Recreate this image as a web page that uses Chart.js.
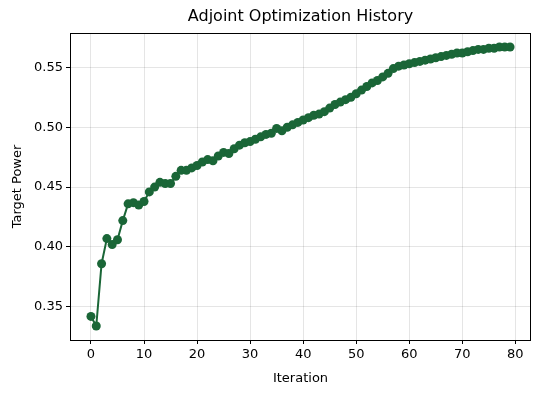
<!DOCTYPE html>
<html>
<head>
<meta charset="utf-8">
<script src="https://cdn.jsdelivr.net/npm/chart.js@4/dist/chart.umd.min.js"></script>
<style>
  html, body { margin: 0; padding: 0; background: #fff; }
  #wrap { width: 544px; height: 393px; }
</style>
</head>
<body>
<div id="wrap"><canvas id="chart"></canvas></div>
<script>
const iterations = Array.from({ length: 80 }, (_, i) => i);
const targetPower = [
  0.342, 0.334, 0.386, 0.407, 0.402, 0.406, 0.422, 0.436, 0.437, 0.435,
  0.438, 0.446, 0.450, 0.454, 0.453, 0.453, 0.459, 0.464, 0.464, 0.466,
  0.468, 0.471, 0.473, 0.472, 0.476, 0.479, 0.478, 0.482, 0.485, 0.487,
  0.488, 0.490, 0.492, 0.494, 0.495, 0.499, 0.497, 0.500, 0.502, 0.504,
  0.506, 0.508, 0.510, 0.511, 0.513, 0.516, 0.519, 0.521, 0.523, 0.525,
  0.528, 0.531, 0.534, 0.537, 0.539, 0.542, 0.545, 0.549, 0.551, 0.552,
  0.553, 0.554, 0.555, 0.556, 0.557, 0.558, 0.559, 0.560, 0.561, 0.562,
  0.562, 0.563, 0.564, 0.565, 0.565, 0.566, 0.566, 0.567, 0.567, 0.567
];
const xTicks = [0, 10, 20, 30, 40, 50, 60, 70, 80];
const yTicks = [0.35, 0.40, 0.45, 0.50, 0.55];
const titleText = 'Adjoint Optimization History';

const lineColor = '#1a6637';
const fontFamily = '"DejaVu Sans", sans-serif';

// frame + title like matplotlib
const framePlugin = {
  id: 'frame',
  afterDraw: (chart) => {
    const { ctx, chartArea } = chart;
    ctx.save();
    ctx.strokeStyle = '#000';
    ctx.lineWidth = 1;
    ctx.strokeRect(chartArea.left + 0.5, chartArea.top + 0.5,
      chartArea.right - chartArea.left - 1, chartArea.bottom - chartArea.top);
    ctx.fillStyle = '#000';
    ctx.font = '16px ' + fontFamily;
    ctx.textAlign = 'center';
    ctx.textBaseline = 'middle';
    ctx.fillText(titleText, (chartArea.left + chartArea.right) / 2, 17);
    ctx.restore();
  }
};

const points = iterations.map((x, i) => ({ x: x, y: targetPower[i] }));

new Chart('chart', {
  type: 'line',
  data: {
    datasets: [{
      data: points,
      borderColor: lineColor,
      backgroundColor: lineColor,
      borderWidth: 2,
      pointRadius: 4.5,
      pointHoverRadius: 4.5,
      pointBorderWidth: 0,
      tension: 0,
      fill: false
    }]
  },
  options: {
    responsive: true,
    maintainAspectRatio: false,
    animation: false,
    layout: { padding: { left: 0, right: 13, top: 33, bottom: 0 } },
    plugins: {
      legend: { display: false },
      title: { display: false },
      tooltip: { enabled: false }
    },
    scales: {
      x: {
        type: 'linear',
        min: -3.95,
        max: 82.95,
        afterBuildTicks: (scale) => { scale.ticks = xTicks.map(v => ({ value: v })); },
        afterFit: (scale) => { scale.height = 53; },
        grid: { color: 'rgba(0,0,0,0.1)', tickColor: '#000', tickLength: 4, drawOnChartArea: true },
        border: { display: false },
        ticks: { color: '#000', font: { family: fontFamily, size: 13 }, padding: 3, maxRotation: 0 },
        title: { display: true, text: 'Iteration', color: '#000', font: { family: fontFamily, size: 13 }, padding: { top: 2, bottom: 7 } }
      },
      y: {
        min: 0.3223,
        max: 0.5787,
        afterBuildTicks: (scale) => { scale.ticks = yTicks.map(v => ({ value: v })); },
        afterFit: (scale) => { scale.width = 70; },
        grid: { color: 'rgba(0,0,0,0.1)', tickColor: '#000', tickLength: 4 },
        border: { display: false },
        ticks: { color: '#000', font: { family: fontFamily, size: 13 }, padding: 3,
          callback: (v) => v.toFixed(2) },
        title: { display: true, text: 'Target Power', color: '#000', font: { family: fontFamily, size: 13 }, padding: { top: 10, bottom: 2 } }
      }
    }
  },
  plugins: [framePlugin]
});
</script>
</body>
</html>
